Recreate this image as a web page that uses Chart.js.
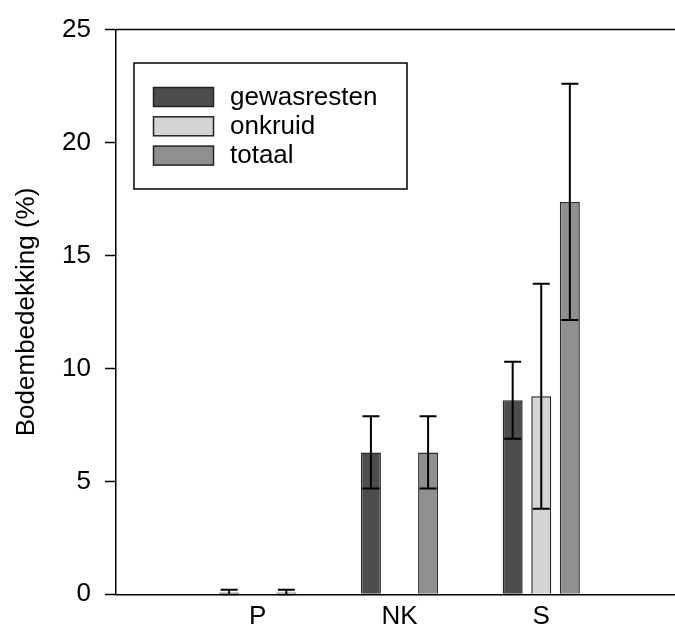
<!DOCTYPE html>
<html>
<head>
<meta charset="utf-8">
<script src="https://cdn.jsdelivr.net/npm/chart.js@4/dist/chart.umd.min.js"></script>
<style>
  html, body { margin: 0; padding: 0; background: #fff; overflow: hidden; }
  #wrap { width: 700px; height: 632px; }
</style>
</head>
<body>
<div id="wrap"><canvas id="myChart" width="700" height="632"></canvas></div>
<script>
// empty slots left and right so the groups sit where they do in the figure
const categories = ['', 'P', 'NK', 'S', '']

const gewasresten = [null, 0.08, 6.28, 8.59, null]
const onkruid = [null, 0, 0, 8.77, null]
const totaal = [null, 0.08, 6.28, 17.37, null]

// +/- error (standard error) per bar
const errGewasresten = [null, 0.12, 1.6, 1.7, null]
const errOnkruid = [null, 0, 0, 4.98, null]
const errTotaal = [null, 0.12, 1.6, 5.23, null]

const yTicks = [0, 5, 10, 15, 20, 25]

const FONT = "'Liberation Sans', Arial, sans-serif"
const ctx = document.getElementById('myChart')

const errorBars = {
    id: 'errorBars',
    afterDatasetsDraw(chart) {
        const c = chart.ctx
        const y = chart.scales.y
        const area = chart.chartArea
        c.save()
        c.beginPath()
        c.rect(area.left, area.top, area.right - area.left, area.bottom - area.top + 1)
        c.clip()
        c.strokeStyle = '#000'
        c.lineWidth = 2
        chart.data.datasets.forEach((ds, i) => {
            const meta = chart.getDatasetMeta(i)
            meta.data.forEach((bar, j) => {
                const v = ds.data[j]
                const e = ds.errors[j]
                if (v == null || !e) return
                const x = bar.x
                const yTop = y.getPixelForValue(v + e)
                const yBot = y.getPixelForValue(v - e)
                const cap = 8.5
                c.beginPath()
                c.moveTo(x, yTop); c.lineTo(x, yBot)
                c.moveTo(x - cap, yTop); c.lineTo(x + cap, yTop)
                c.moveTo(x - cap, yBot); c.lineTo(x + cap, yBot)
                c.stroke()
            })
        })
        c.restore()
    }
}

const frameAndLegend = {
    id: 'frameAndLegend',
    afterDraw(chart) {
        const c = chart.ctx
        const area = chart.chartArea
        c.save()
        // top frame line
        c.strokeStyle = '#000'
        c.lineWidth = 1.5
        c.beginPath()
        c.moveTo(area.left, area.top)
        c.lineTo(area.right, area.top)
        c.stroke()

        // legend box
        const bx = 134, by = 63, bw = 273, bh = 126
        c.fillStyle = '#fff'
        c.fillRect(bx, by, bw, bh)
        c.strokeRect(bx, by, bw, bh)
        c.font = '26px ' + FONT
        c.textBaseline = 'middle'
        chart.data.datasets.forEach((ds, i) => {
            const sy = 87.5 + i * 29.3
            c.fillStyle = ds.backgroundColor
            c.fillRect(153.5, sy, 60, 19)
            c.strokeStyle = '#222'
            c.lineWidth = 1.5
            c.strokeRect(153.5, sy, 60, 19)
            c.fillStyle = '#000'
            c.fillText(ds.label, 230, sy + 10)
        })
        c.restore()
    }
}

function makeSet(label, data, errors, color) {
    return {
        label: label,
        data: data,
        errors: errors,
        backgroundColor: color,
        borderColor: '#2a2a2a',
        borderWidth: 1.5,
        categoryPercentage: 0.605,
        barPercentage: 0.7
    }
}

new Chart(ctx, {
    type: 'bar',
    data: {
        labels: categories,
        datasets: [
            makeSet('gewasresten', gewasresten, errGewasresten, '#4d4d4d'),
            makeSet('onkruid', onkruid, errOnkruid, '#d4d4d4'),
            makeSet('totaal', totaal, errTotaal, '#8f8f8f')
        ]
    },
    options: {
        responsive: false,
        animation: false,
        layout: {
            padding: { top: 26.5, right: 17, left: 0, bottom: 0 }
        },
        plugins: {
            legend: { display: false },
            tooltip: { enabled: false }
        },
        scales: {
            x: {
                offset: false,
                grid: { display: false, drawTicks: false },
                border: { color: '#000', width: 1.5 },
                ticks: {
                    color: '#000',
                    padding: 7,
                    maxRotation: 0,
                    autoSkip: false,
                    font: { family: FONT, size: 26 }
                },
                afterFit(scale) { scale.height = 37.7 }
            },
            y: {
                min: 0,
                max: 25,
                afterBuildTicks(scale) { scale.ticks = yTicks.map(v => ({ value: v })) },
                grid: {
                    drawOnChartArea: false,
                    drawTicks: true,
                    tickLength: 11,
                    tickWidth: 1.5,
                    tickColor: '#000'
                },
                border: { color: '#000', width: 1.5 },
                ticks: {
                    color: '#000',
                    padding: 14,
                    font: { family: FONT, size: 26 }
                },
                title: {
                    display: true,
                    text: 'Bodembedekking (%)',
                    color: '#000',
                    padding: { top: 11, bottom: 0 },
                    font: { family: FONT, size: 26 }
                },
                afterFit(scale) { scale.width = 116 }
            }
        }
    },
    plugins: [errorBars, frameAndLegend]
});
</script>
</body>
</html>
